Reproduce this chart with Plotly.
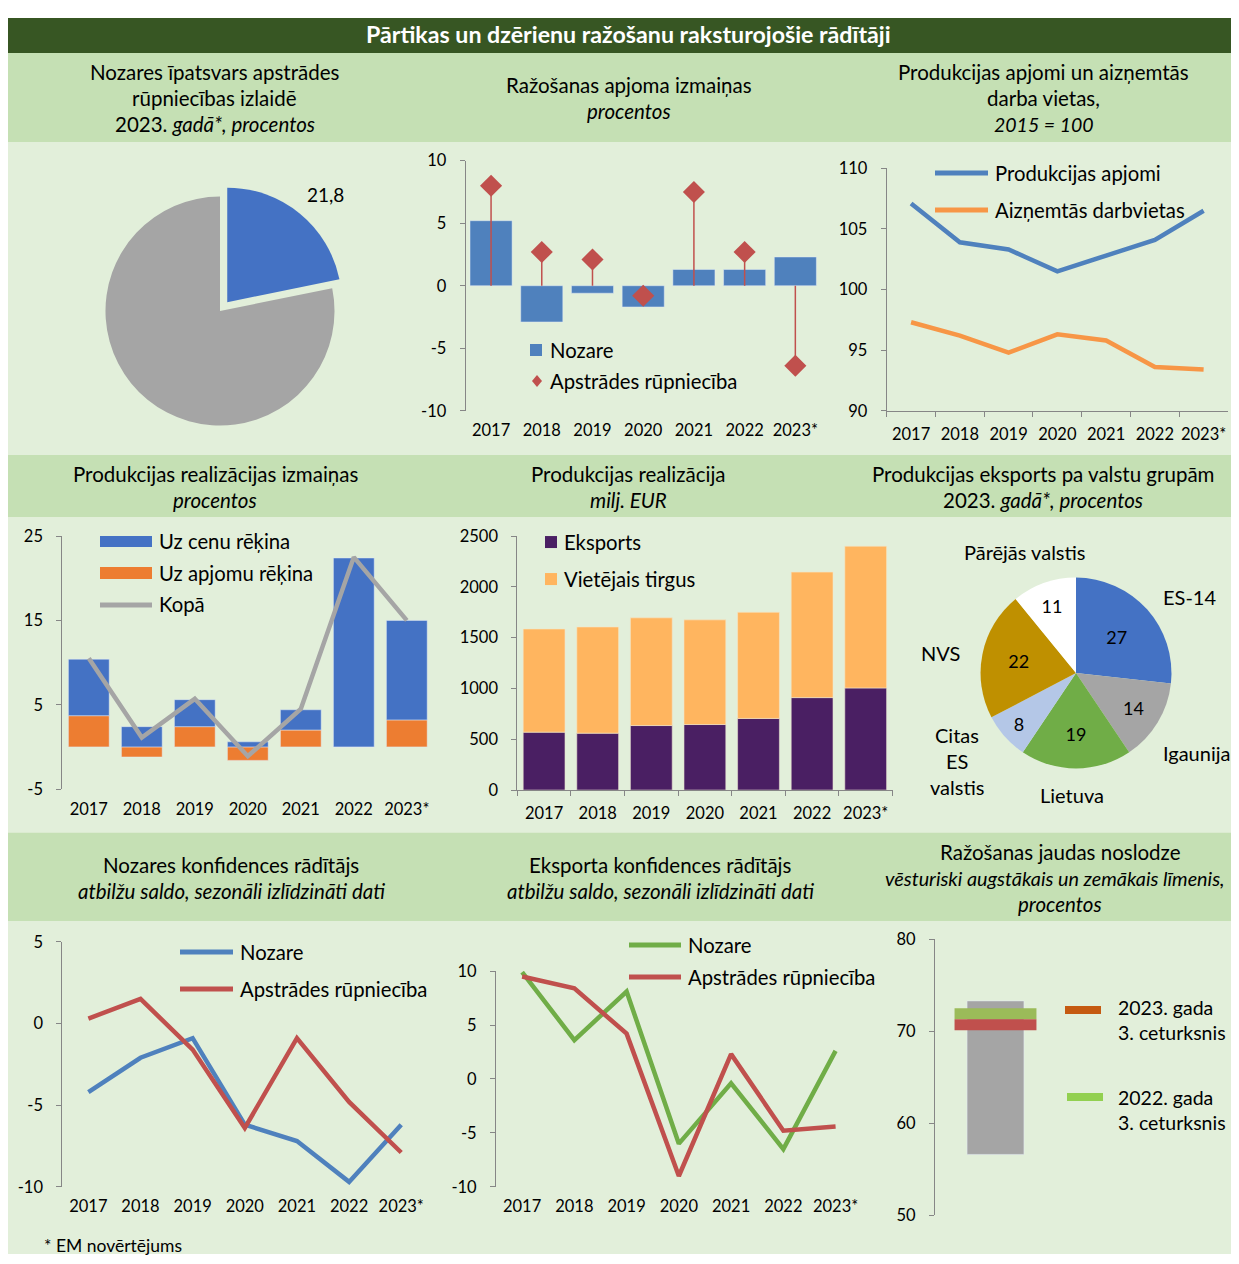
import plotly.graph_objects as go

# page geometry: measured mapping of figure pixels to the final picture
W, H = 1223, 1256
OX, OY, SY = 8, 18, 0.984
FONT = "Lato"
AXC = "#868686"
TS = 20.5   # title size
LS = 20.3   # legend size


def px(x):
    return (x - OX) / W


def py(y):
    return max(0.0, 1 - (y - OY) / SY / H)


# ---------------- data ----------------
years = ["2017", "2018", "2019", "2020", "2021", "2022", "2023*"]

share_labels = ["Pārtikas un dzērienu ražošana", "Pārējā apstrādes rūpniecība"]
share_values = [21.8, 78.2]

vol_names = ["Nozare", "Apstrādes rūpniecība"]
vol_nozare = [5.2, -2.9, -0.6, -1.7, 1.3, 1.3, 2.3]
vol_apstr = [8.0, 2.7, 2.1, -0.8, 7.5, 2.7, -6.4]

idx_names = ["Produkcijas apjomi", "Aizņemtās darbvietas"]
idx_prod = [107.1, 103.9, 103.3, 101.5, 102.8, 104.1, 106.5]
idx_jobs = [97.3, 96.2, 94.8, 96.3, 95.8, 93.6, 93.4]

real_names = ["Uz cenu rēķina", "Uz apjomu rēķina", "Kopā"]
real_cenu = [6.7, 2.4, 3.2, 0.6, 2.4, 22.4, 11.8]
real_apjomu = [3.7, -1.2, 2.4, -1.6, 2.0, 0.0, 3.2]
real_kopa = [10.5, 1.1, 5.7, -1.1, 4.5, 22.5, 15.0]

sales_names = ["Eksports", "Vietējais tirgus"]
sales_export = [570, 560, 635, 645, 705, 910, 1005]
sales_domestic = [1015, 1045, 1060, 1030, 1045, 1235, 1395]

exp_groups = ["ES-14", "Igaunija", "Lietuva", "Citas ES valstis", "NVS", "Pārējās valstis"]
exp_shares = [27, 14, 19, 8, 22, 11]

conf_names = ["Nozare", "Apstrādes rūpniecība"]
conf_nozare = [-4.2, -2.1, -0.9, -6.2, -7.2, -9.7, -6.2]
conf_apstr = [0.3, 1.5, -1.6, -6.4, -0.9, -4.8, -7.9]

expconf_nozare = [9.9, 3.6, 8.1, -6.0, -0.4, -6.5, 2.6]
expconf_apstr = [9.5, 8.4, 4.2, -9.0, 2.3, -4.8, -4.4]

cap_min, cap_max = 56.6, 73.3
cap_names = ["2023. gada<br>3. ceturksnis", "2022. gada<br>3. ceturksnis"]
cap_2023q3 = 70.7
cap_2022q3 = 71.9

# colours
BLUE = "#4472C4"
BLUE_L = "#4F81BD"
RED = "#C0504D"
ORANGE = "#F79646"
ORANGE_B = "#ED7D31"
GREY = "#A5A5A5"
GREEN = "#70AD47"
PURPLE = "#4A1F63"
PEACH = "#FFB55F"

fig = go.Figure()

# ---------------- axes ----------------
layout_axes = {}


def panel(n, xd, yd, yr, dt, zero=False):
    """n: axis number; xd: (left, right) px; yd: (top, bottom) px."""
    sx = "" if n == 1 else str(n)
    tv = list(range(yr[0], yr[1] + 1, dt))
    layout_axes["xaxis" + sx] = dict(
        domain=[px(xd[0]), min(1.0, px(xd[1]))], anchor="y" + sx, type="category",
        categoryorder="array", categoryarray=years, range=[-0.5, 6.5],
        showgrid=False, zeroline=False, showline=not zero,
        linecolor=AXC, tickson="boundaries", tickangle=0,
        ticks="" if zero else "outside", ticklen=5, tickcolor=AXC,
        tickfont=dict(size=16.5, color="black"), ticklabelstandoff=8, fixedrange=True)
    layout_axes["yaxis" + sx] = dict(
        domain=[py(yd[1]), py(yd[0])], anchor="x" + sx, range=list(yr),
        showgrid=False, zeroline=False, showline=True, linecolor=AXC,
        ticks="outside", ticklen=5, tickcolor=AXC, tickvals=tv,
        ticktext=[str(v) for v in tv], tickfont=dict(size=16.5, color="black"),
        ticklabelstandoff=10, fixedrange=True)
    if zero:
        d0, d1 = py(yd[1]), py(yd[0])
        return d0 + (0 - yr[0]) / (yr[1] - yr[0]) * (d1 - d0)
    return None


overlays = []
for n, xd, yd, yr, dt, zero in [
    (1, (465.7, 820.7), (160.7, 410.7), (-10, 10), 5, True),
    (2, (886.7, 1228), (168.3, 410.7), (90, 110), 5, False),
    (3, (62.3, 433.3), (536, 789), (-5, 25), 10, True),
    (4, (517.3, 892.5), (536, 790), (0, 2500), 500, False),
    (5, (62.3, 427.3), (941.7, 1186.7), (-10, 5), 5, True),
    (6, (496, 861.7), (971, 1186.7), (-10, 10), 5, True),
]:
    pos = panel(n, xd, yd, yr, dt, zero)
    if pos is not None:
        overlays.append((n, pos))

# single-column capacity panel
layout_axes["xaxis7"] = dict(domain=[px(935), px(1056)], anchor="y7", range=[-0.5, 0.5],
                             visible=False, fixedrange=True)
layout_axes["yaxis7"] = dict(domain=[py(1215), py(939.3)], anchor="x7", range=[50, 80],
                             showgrid=False, zeroline=False, showline=True, linecolor=AXC,
                             ticks="outside", ticklen=5, tickcolor=AXC, dtick=10,
                             tickfont=dict(size=16.5, color="black"), ticklabelstandoff=10,
                             fixedrange=True)

# zero-crossing category axes (line and boundary tick marks only)
for k, (n, pos) in enumerate(overlays):
    sx = "" if n == 1 else str(n)
    layout_axes["xaxis" + str(8 + k)] = dict(
        overlaying="x" + sx, anchor="free", position=pos, type="linear",
        range=[-0.5, 6.5], tickvals=[i - 0.5 for i in range(8)], ticks="outside",
        ticklen=5, tickcolor=AXC, showline=True, linecolor=AXC, showticklabels=False,
        showgrid=False, zeroline=False, fixedrange=True)


def pie_domain(cx, cy, half):
    c = py(cy)
    return dict(x=[px(cx - half), px(cx + half)], y=[c - half / H, c + half / H])


# ---------------- traces ----------------
# 1. share pie
fig.add_trace(go.Pie(labels=share_labels, values=share_values, sort=False,
                     direction="clockwise", rotation=0, pull=[0.1, 0],
                     marker=dict(colors=[BLUE, GREY]), textinfo="none",
                     hoverinfo="label+value", domain=pie_domain(220, 311, 128)))

# 2. production volume change
fig.add_trace(go.Bar(x=years, y=vol_nozare, marker_color=BLUE_L, width=0.83,
                     name=vol_names[0], xaxis="x", yaxis="y"))
stem_x, stem_y = [], []
for yr_, v in zip(years, vol_apstr):
    stem_x += [yr_, yr_, None]
    stem_y += [0, v, None]
fig.add_trace(go.Scatter(x=stem_x, y=stem_y, mode="lines", line=dict(color=RED, width=1.5),
                         hoverinfo="skip", xaxis="x", yaxis="y"))
fig.add_trace(go.Scatter(x=years, y=vol_apstr, mode="markers", name=vol_names[1],
                         marker=dict(symbol="diamond", size=17, color=RED),
                         xaxis="x", yaxis="y"))

# 3. index lines
fig.add_trace(go.Scatter(x=years, y=idx_prod, mode="lines", name=idx_names[0],
                         line=dict(color=BLUE_L, width=4.5), xaxis="x2", yaxis="y2"))
fig.add_trace(go.Scatter(x=years, y=idx_jobs, mode="lines", name=idx_names[1],
                         line=dict(color=ORANGE, width=4.5), xaxis="x2", yaxis="y2"))

# 4. sales change decomposition
fig.add_trace(go.Bar(x=years, y=real_apjomu, marker_color=ORANGE_B, width=0.77,
                     name=real_names[1], xaxis="x3", yaxis="y3"))
fig.add_trace(go.Bar(x=years, y=real_cenu, marker_color=BLUE, width=0.77,
                     name=real_names[0], xaxis="x3", yaxis="y3"))
fig.add_trace(go.Scatter(x=years, y=real_kopa, mode="lines", name=real_names[2],
                         line=dict(color=GREY, width=4.5), xaxis="x3", yaxis="y3"))

# 5. sales, mln EUR
fig.add_trace(go.Bar(x=years, y=sales_export, marker_color=PURPLE, width=0.78,
                     marker_line=dict(color="#E8E0D0", width=0.6),
                     name=sales_names[0], xaxis="x4", yaxis="y4"))
fig.add_trace(go.Bar(x=years, y=sales_domestic, marker_color=PEACH, width=0.78,
                     marker_line=dict(color="#F5E6C8", width=0.6),
                     name=sales_names[1], xaxis="x4", yaxis="y4"))

# 6. export structure pie
fig.add_trace(go.Pie(labels=exp_groups, values=exp_shares, sort=False,
                     direction="clockwise", rotation=0,
                     marker=dict(colors=[BLUE, GREY, GREEN, "#B4C7E7", "#BF9000", "white"]),
                     texttemplate="%{value}", textposition="inside",
                     insidetextorientation="horizontal",
                     insidetextfont=dict(size=18, color="black", family=FONT),
                     domain=pie_domain(1076, 673, 97)))

# 7. industry confidence
fig.add_trace(go.Scatter(x=years, y=conf_nozare, mode="lines", name=conf_names[0],
                         line=dict(color=BLUE_L, width=4.5), xaxis="x5", yaxis="y5"))
fig.add_trace(go.Scatter(x=years, y=conf_apstr, mode="lines", name=conf_names[1],
                         line=dict(color=RED, width=4.5), xaxis="x5", yaxis="y5"))

# 8. export confidence
fig.add_trace(go.Scatter(x=years, y=expconf_nozare, mode="lines", name=conf_names[0],
                         line=dict(color=GREEN, width=4.5), xaxis="x6", yaxis="y6"))
fig.add_trace(go.Scatter(x=years, y=expconf_apstr, mode="lines", name=conf_names[1],
                         line=dict(color=RED, width=4.5), xaxis="x6", yaxis="y6"))

# 9. capacity utilisation
fig.add_trace(go.Bar(x=[0], y=[cap_max - cap_min], base=[cap_min], width=0.47,
                     marker_color=GREY, xaxis="x7", yaxis="y7"))
fig.add_trace(go.Scatter(x=[0], y=[cap_2022q3], mode="markers",
                         marker=dict(symbol="line-ew", size=58.5,
                                     line=dict(color="#9BBB59", width=11)),
                         xaxis="x7", yaxis="y7"))
fig.add_trace(go.Scatter(x=[0], y=[cap_2023q3], mode="markers",
                         marker=dict(symbol="line-ew", size=58.5,
                                     line=dict(color=RED, width=11)),
                         xaxis="x7", yaxis="y7"))

# ---------------- background bands ----------------
shapes = []


def band(top, bottom, color, x0=8, x1=1239):
    shapes.append(dict(type="rect", xref="paper", yref="paper", layer="below",
                       x0=px(x0), x1=px(x1), y0=py(bottom), y1=py(top),
                       fillcolor=color, line_width=0))


band(18, 53, "#375623")
band(53, 142, "#C5E0B4")
band(142, 455, "#E2EFDA")
band(455, 517.5, "#C5E0B4")
band(517.5, 832.5, "#E2EFDA")
band(832.5, 921, "#C5E0B4")
band(921, 1264, "#E2EFDA")

annotations = []


def text(t, x, y, size=TS, xanchor="center", color="black", bold=False):
    if bold:
        t = "<b>" + t + "</b>"
    annotations.append(dict(text=t, x=px(x), y=py(y), xref="paper", yref="paper",
                            xanchor=xanchor, yanchor="middle", showarrow=False,
                            align="left" if xanchor == "left" else "center",
                            font=dict(size=size, color=color, family=FONT)))


def leg_line(x0, x1, y, color, width=5):
    shapes.append(dict(type="line", xref="paper", yref="paper", x0=px(x0), x1=px(x1),
                       y0=py(y), y1=py(y), line=dict(color=color, width=width)))


def leg_rect(x0, x1, y0, y1, color):
    shapes.append(dict(type="rect", xref="paper", yref="paper", x0=px(x0), x1=px(x1),
                       y0=py(y1), y1=py(y0), fillcolor=color, line_width=0))


# main title
text("Pārtikas un dzērienu ražošanu raksturojošie rādītāji", 628, 34, 23.2,
     color="white", bold=True)

# panel titles
text("Nozares īpatsvars apstrādes", 214.5, 72)
text("rūpniecības izlaidē", 214.5, 98)
text("2023. <i>gadā*, procentos</i>", 214.5, 124)
text("Ražošanas apjoma izmaiņas", 628.5, 85)
text("<i>procentos</i>", 628.5, 111)
text("Produkcijas apjomi un aizņemtās", 1043.5, 72)
text("darba vietas,", 1043.5, 98)
text("<i>2015 = 100</i>", 1043.5, 124, 19.5)

text("Produkcijas realizācijas izmaiņas", 215, 474)
text("<i>procentos</i>", 215, 500)
text("Produkcijas realizācija", 628.5, 474)
text("<i>milj. EUR</i>", 628.5, 500)
text("Produkcijas eksports pa valstu grupām", 1043, 474)
text("2023. <i>gadā*, procentos</i>", 1043, 500)

text("Nozares konfidences rādītājs", 231, 865)
text("<i>atbilžu saldo, sezonāli izlīdzināti dati</i>", 231, 891)
text("Eksporta konfidences rādītājs", 660, 865)
text("<i>atbilžu saldo, sezonāli izlīdzināti dati</i>", 660, 891)
text("Ražošanas jaudas noslodze", 1060, 852)
text("<i>vēsturiski augstākais un zemākais līmenis,</i>", 1054, 878, 19.8)
text("<i>procentos</i>", 1060, 904)

# pie 1 value label
text(f"{share_values[0]:.1f}".replace(".", ","), 325, 194, 19)

# panel 2 legend
leg_rect(530, 542, 344, 356, BLUE_L)
text(vol_names[0], 548, 350, LS, xanchor="left")
shapes.append(dict(type="path", xref="paper", yref="paper", fillcolor=RED, line_width=0,
                   path=f"M {px(537)},{py(375)} L {px(542)},{py(381)} L {px(537)},{py(387)} "
                        f"L {px(532)},{py(381)} Z"))
text(vol_names[1], 548, 381, LS, xanchor="left")

# panel 3 legend
leg_line(935, 988, 173, BLUE_L)
text(idx_names[0], 993, 173, LS, xanchor="left")
leg_line(935, 988, 210, ORANGE)
text(idx_names[1], 993, 210, LS, xanchor="left")

# panel 4 legend
leg_rect(100, 152, 536, 547, BLUE)
text(real_names[0], 157, 541, LS, xanchor="left")
leg_rect(100, 152, 567, 579, ORANGE_B)
text(real_names[1], 157, 573, LS, xanchor="left")
leg_line(100, 152, 605, GREY)
text(real_names[2], 157, 604, LS, xanchor="left")

# panel 5 legend
leg_rect(545, 557, 536, 548, PURPLE)
text(sales_names[0], 562, 542, LS, xanchor="left")
leg_rect(545, 557, 573, 585, PEACH)
text(sales_names[1], 562, 579, LS, xanchor="left")

# panel 6 outside labels
PS = 20
text(exp_groups[5], 1025, 552, PS)
text(exp_groups[0], 1189, 597, PS)
text(exp_groups[1], 1196, 753, PS)
text(exp_groups[2], 1072, 795, PS)
text(exp_groups[4], 940, 653, PS)
for i, w in enumerate(exp_groups[3].split(" ")):
    text(w, 957, 735 + 26 * i, PS)

# panel 7 legend
leg_line(180, 233, 952, BLUE_L)
text(conf_names[0], 238, 952, LS, xanchor="left")
leg_line(180, 233, 989, RED)
text(conf_names[1], 238, 989, LS, xanchor="left")

# panel 8 legend
leg_line(629, 681, 945, GREEN)
text(conf_names[0], 686, 945, LS, xanchor="left")
leg_line(629, 681, 977, RED)
text(conf_names[1], 686, 977, LS, xanchor="left")

# panel 9 legend
leg_line(1065, 1101, 1010, "#C55A11", 8)
text(cap_names[0], 1116, 1020, 19.5, xanchor="left")
leg_line(1067, 1103, 1097, "#92D050", 8)
text(cap_names[1], 1116, 1110, 19.5, xanchor="left")

# footnote
text("* EM novērtējums", 42, 1245, 17.5, xanchor="left")

fig.update_layout(width=W, height=H, margin=dict(l=0, r=0, t=0, b=0),
                  paper_bgcolor="white", plot_bgcolor="rgba(0,0,0,0)",
                  showlegend=False, barmode="relative",
                  font=dict(family=FONT, color="black"),
                  shapes=shapes, annotations=annotations, **layout_axes)

fig.write_html("out.html")
